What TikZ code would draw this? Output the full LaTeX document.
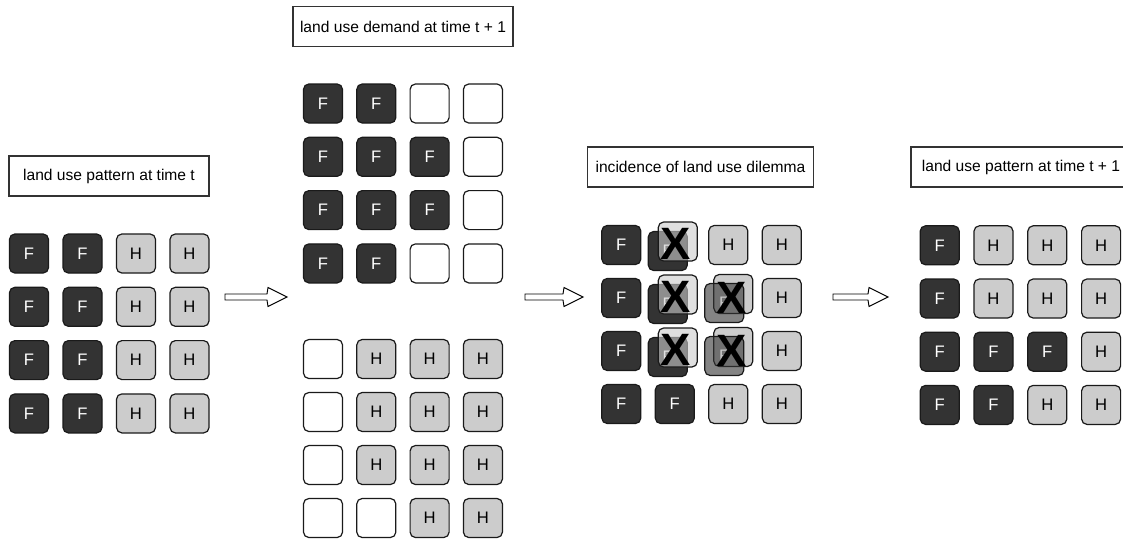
\documentclass[tikz,border=0pt]{standalone}
\usepackage{fontspec}
\setmainfont{Liberation Sans}
\usetikzlibrary{calc}
\definecolor{darkc}{HTML}{333333}
\definecolor{lightc}{HTML}{CCCCCC}
\definecolor{edgec}{HTML}{1A1A1A}
\definecolor{boxc}{HTML}{333333}
\newcommand\gcF[3]{\node[cellF] (#1) at (#2,#3) {F};}
\newcommand\gcH[3]{\node[cellH] (#1) at (#2,#3) {H};}
\newcommand\gcE[3]{\node[cellE] (#1) at (#2,#3) {};}
\newcommand\gcN[3]{}
\newcommand\mkgrid[6]{%
  \foreach \rowlist [count=\ri] in {#6} {%
    \foreach \tp [count=\ci] in \rowlist {%
      \pgfmathsetmacro\xx{#2+(\ci-1)*#4}%
      \pgfmathsetmacro\yy{#3+(\ri-1)*#5}%
      \csname gc\tp\endcsname{#1-\ri-\ci}{\xx}{\yy}%
    }%
  }%
}
\newcommand\barrow[2]{%
  \draw[blockarrow] ($(#1)+(0,-3)$) -- ($(#2)+(-20,-3)$) -- ($(#2)+(-19,-9.5)$) -- (#2)
    -- ($(#2)+(-19,9.5)$) -- ($(#2)+(-20,3)$) -- ($(#1)+(0,3)$) -- cycle;}
\tikzset{
  cell/.style={draw=edgec, line width=0.9pt, rounded corners=4pt, minimum size=29.25pt,
    inner sep=0pt, font=\fontsize{12.5}{14}\selectfont},
  cellF/.style={cell, fill=darkc, text=white},
  cellH/.style={cell, fill=lightc, text=black},
  cellE/.style={cell, fill=white},
  lbl/.style={draw=boxc, line width=0.9pt, fill=white, minimum height=30pt, inner sep=0pt,
    font=\fontsize{11.7}{14}\selectfont},
  xmark/.style={inner sep=0pt, font=\fontsize{34}{37}\bfseries\selectfont, text=black},
  blockarrow/.style={draw=black, line width=0.7pt, fill=white, line join=miter}
}
\begin{document}
\begin{tikzpicture}[x=0.75pt, y=-0.75pt]
\useasboundingbox (0,0) rectangle (1123,540);
\fill[white] (0,0) rectangle (1123,540);
\begin{scope}
\clip (0,0) rectangle (1123,540);
% labels
\node[lbl, minimum width=150pt] (lA) at (109,176) {land use pattern at time t};
\node[lbl, minimum width=165pt] (lB) at (403,26.5) {land use demand at time t + 1};
\node[lbl, minimum width=170pt] (lC) at (700.5,167) {incidence of land use dilemma};
\node[lbl, minimum width=165pt] (lD) at (1021,167) {land use pattern at time t + 1};
% grids
\mkgrid{A}{29}{253.5}{53.5}{53.3}{{F,F,H,H},{F,F,H,H},{F,F,H,H},{F,F,H,H}}
\mkgrid{B}{323}{103.5}{53.3}{53.3}{{F,F,E,E},{F,F,F,E},{F,F,F,E},{F,F,E,E}}
\mkgrid{L}{323}{359}{53.3}{53}{{E,H,H,H},{E,H,H,H},{E,H,H,H},{E,E,H,H}}
\mkgrid{C}{621.3}{245}{53.5}{53}{{F,N,H,H},{F,N,N,H},{F,N,N,H},{F,F,H,H}}
\mkgrid{D}{939.7}{245.3}{53.8}{53.2}{{F,H,H,H},{F,H,H,H},{F,F,F,H},{F,F,H,H}}
% dilemma overlays
\foreach \ri in {1,2,3} {
  \pgfmathsetmacro\yy{245+(\ri-1)*53}
  \node[cellF] (Cf-\ri-2) at (667.8, \yy+6) {F};
  \node[cellH, fill opacity=0.6] (Ch-\ri-2) at (677.8, \yy-3.5) {};
}
\foreach \ri in {2,3} {
  \pgfmathsetmacro\yy{245+(\ri-1)*53}
  \node[cellH] (Ch-\ri-3) at (733.3, \yy-4) {};
  \node[cellF, fill opacity=0.6] (Cf-\ri-3) at (724.3, \yy+5) {F};
}
\foreach \ri in {1,2,3} {
  \pgfmathsetmacro\yy{245+(\ri-1)*53}
  \node[xmark] (X-\ri-2) at (676, \yy-1) {X};
}
\foreach \ri in {2,3} {
  \pgfmathsetmacro\yy{245+(\ri-1)*53}
  \node[xmark] (X-\ri-3) at (732, \yy) {X};
}
% arrows
\coordinate (a1s) at (225,297);
\coordinate (a1e) at (287,297);
\coordinate (a2s) at (525,297);
\coordinate (a2e) at (583,297);
\coordinate (a3s) at (833,297);
\coordinate (a3e) at (888,297);
\barrow{a1s}{a1e}
\barrow{a2s}{a2e}
\barrow{a3s}{a3e}
\end{scope}
\end{tikzpicture}
\end{document}
